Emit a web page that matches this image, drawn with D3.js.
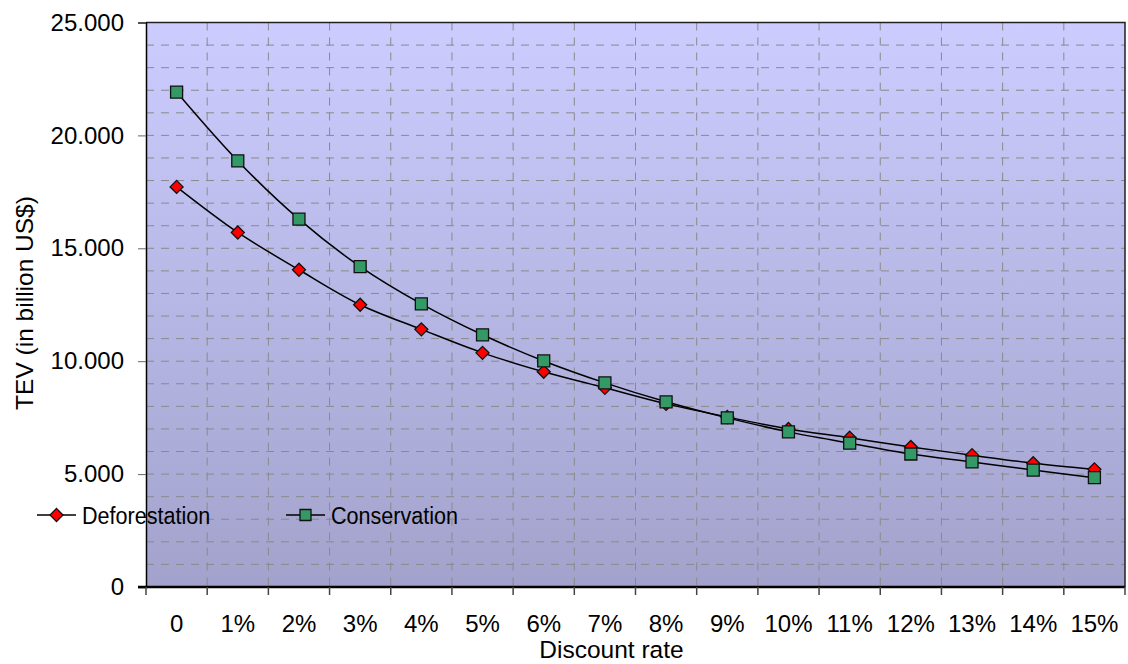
<!DOCTYPE html>
<html>
<head>
<meta charset="utf-8">
<script src="https://cdn.jsdelivr.net/npm/d3@7"></script>
<style>
  html, body { margin: 0; padding: 0; background: #fff; }
  #chart { width: 1128px; height: 664px; }
  text { font-family: Arial, "Liberation Sans", sans-serif; fill: #000; }
</style>
</head>
<body>
<div id="chart"></div>
<script>
// categories on the x axis
const rates = ["0", "1%", "2%", "3%", "4%", "5%", "6%", "7%", "8%", "9%", "10%", "11%", "12%", "13%", "14%", "15%"];
// TEV in billion US$
const deforestation = [17720, 15700, 14050, 12500, 11410, 10370, 9530, 8820, 8110, 7530, 7000, 6610, 6200, 5840, 5480, 5210];
const conservation = [21920, 18870, 16290, 14190, 12540, 11170, 10010, 9040, 8200, 7490, 6870, 6370, 5890, 5540, 5180, 4840];
const yTicks = [0, 5000, 10000, 15000, 20000, 25000];
const yTickLabels = ["0", "5.000", "10.000", "15.000", "20.000", "25.000"];

const margin = { top: 22.5, right: 3, bottom: 77, left: 146 };
const W = 1128, H = 664;
const width = W - margin.left - margin.right;
const height = H - margin.top - margin.bottom;

const svg = d3.select("#chart").append("svg")
    .attr("width", W)
    .attr("height", H);

const defs = svg.append("defs");
const grad = defs.append("linearGradient")
    .attr("id", "bg")
    .attr("x1", 0).attr("y1", 0).attr("x2", 0).attr("y2", 1);
grad.append("stop").attr("offset", "0%").attr("stop-color", "#ccccff");
grad.append("stop").attr("offset", "100%").attr("stop-color", "#a2a2cc");

const g = svg.append("g").attr("transform", `translate(${margin.left},${margin.top})`);

const x = d3.scaleBand().domain(rates).range([0, width]).padding(0);
const y = d3.scaleLinear().domain([0, 25000]).range([height, 0]);

g.append("rect")
    .attr("width", width).attr("height", height)
    .attr("fill", "url(#bg)");

// horizontal gridlines every 1000
g.append("g")
    .selectAll("line")
    .data(d3.range(1000, 25000, 1000))
    .join("line")
    .attr("x1", 0).attr("x2", width)
    .attr("y1", d => y(d)).attr("y2", d => y(d))
    .attr("stroke", "#8a8a8a")
    .attr("stroke-dasharray", "8,7");

// vertical gridlines at category boundaries
g.append("g")
    .selectAll("line")
    .data(rates.slice(1))
    .join("line")
    .attr("x1", d => x(d)).attr("x2", d => x(d))
    .attr("y1", 0).attr("y2", height)
    .attr("stroke", "#8a8a8a")
    .attr("stroke-dasharray", "8,7");

// plot border (top/right)
g.append("path")
    .attr("d", `M0,0H${width}V${height}`)
    .attr("fill", "none")
    .attr("stroke", "#222")
    .attr("stroke-width", 1.5);

// y axis
const yAxis = g.append("g")
    .call(d3.axisLeft(y).tickValues(yTicks).tickSize(8).tickFormat((d, i) => yTickLabels[i]));
yAxis.select(".domain").attr("stroke", "#000").attr("stroke-width", 1.5);
yAxis.selectAll(".tick line").attr("stroke", "#666");
yAxis.selectAll("text")
    .attr("font-size", 24)
    .attr("font-family", "Arial, 'Liberation Sans', sans-serif")
    .attr("x", -22);

// x axis: ticks at category boundaries, labels at centres
const xAxis = g.append("g").attr("transform", `translate(0,${height})`);
xAxis.append("line")
    .attr("x1", -8).attr("x2", width)
    .attr("stroke", "#000").attr("stroke-width", 2.5);
xAxis.selectAll(".bt")
    .data(rates.concat(["end"]))
    .join("line")
    .attr("class", "bt")
    .attr("x1", (d, i) => i * x.bandwidth())
    .attr("x2", (d, i) => i * x.bandwidth())
    .attr("y1", 0).attr("y2", 8)
    .attr("stroke", "#444").attr("stroke-width", 1.5);
xAxis.selectAll(".lbl")
    .data(rates)
    .join("text")
    .attr("class", "lbl")
    .attr("x", d => x(d) + x.bandwidth() / 2)
    .attr("y", 45)
    .attr("text-anchor", "middle")
    .attr("font-size", 24)
    .text(d => d);

svg.append("text")
    .attr("x", margin.left + width / 2 - 24)
    .attr("y", 658)
    .attr("text-anchor", "middle")
    .attr("font-size", 24.5)
    .text("Discount rate");

svg.append("text")
    .attr("transform", `translate(33,303) rotate(-90)`)
    .attr("text-anchor", "middle")
    .attr("font-size", 24.5)
    .text("TEV (in billion US$)");

// lines
const cx = (d, i) => x(rates[i]) + x.bandwidth() / 2;
const line = d3.line()
    .x(cx)
    .y(d => y(d))
    .curve(d3.curveCatmullRom.alpha(0.5));

const diamond = s => `M0,${-s}L${s},0L0,${s}L${-s},0Z`;
const square = s => `M${-s},${-s}H${s}V${s}H${-s}Z`;

function drawSeries(data, shape, fill) {
    g.append("path")
        .datum(data)
        .attr("d", line)
        .attr("fill", "none")
        .attr("stroke", "#000")
        .attr("stroke-width", 1.5);
    g.append("g")
        .selectAll("path")
        .data(data)
        .join("path")
        .attr("transform", (d, i) => `translate(${cx(d, i)},${y(d)})`)
        .attr("d", shape)
        .attr("fill", fill)
        .attr("stroke", "#111")
        .attr("stroke-width", 1.3);
}

drawSeries(deforestation, diamond(6.5), "#ff0000");
drawSeries(conservation, square(6), "#339966");

// legend
const legend = svg.append("g").attr("transform", "translate(0,515)");
const items = [
    { name: "Deforestation", x: 37, shape: diamond(6.5), fill: "#ff0000" },
    { name: "Conservation", x: 286, shape: square(5.5), fill: "#339966" }
];
items.forEach(it => {
    legend.append("line")
        .attr("x1", it.x).attr("x2", it.x + 39)
        .attr("stroke", "#000").attr("stroke-width", 1.5);
    legend.append("path")
        .attr("transform", `translate(${it.x + 19.5},0)`)
        .attr("d", it.shape)
        .attr("fill", it.fill)
        .attr("stroke", "#111")
        .attr("stroke-width", 1.3);
    legend.append("text")
        .attr("transform", `translate(${it.x + 45},8.5) scale(0.88,1)`)
        .attr("font-size", 24.5)
        .text(it.name);
});
</script>
</body>
</html>
